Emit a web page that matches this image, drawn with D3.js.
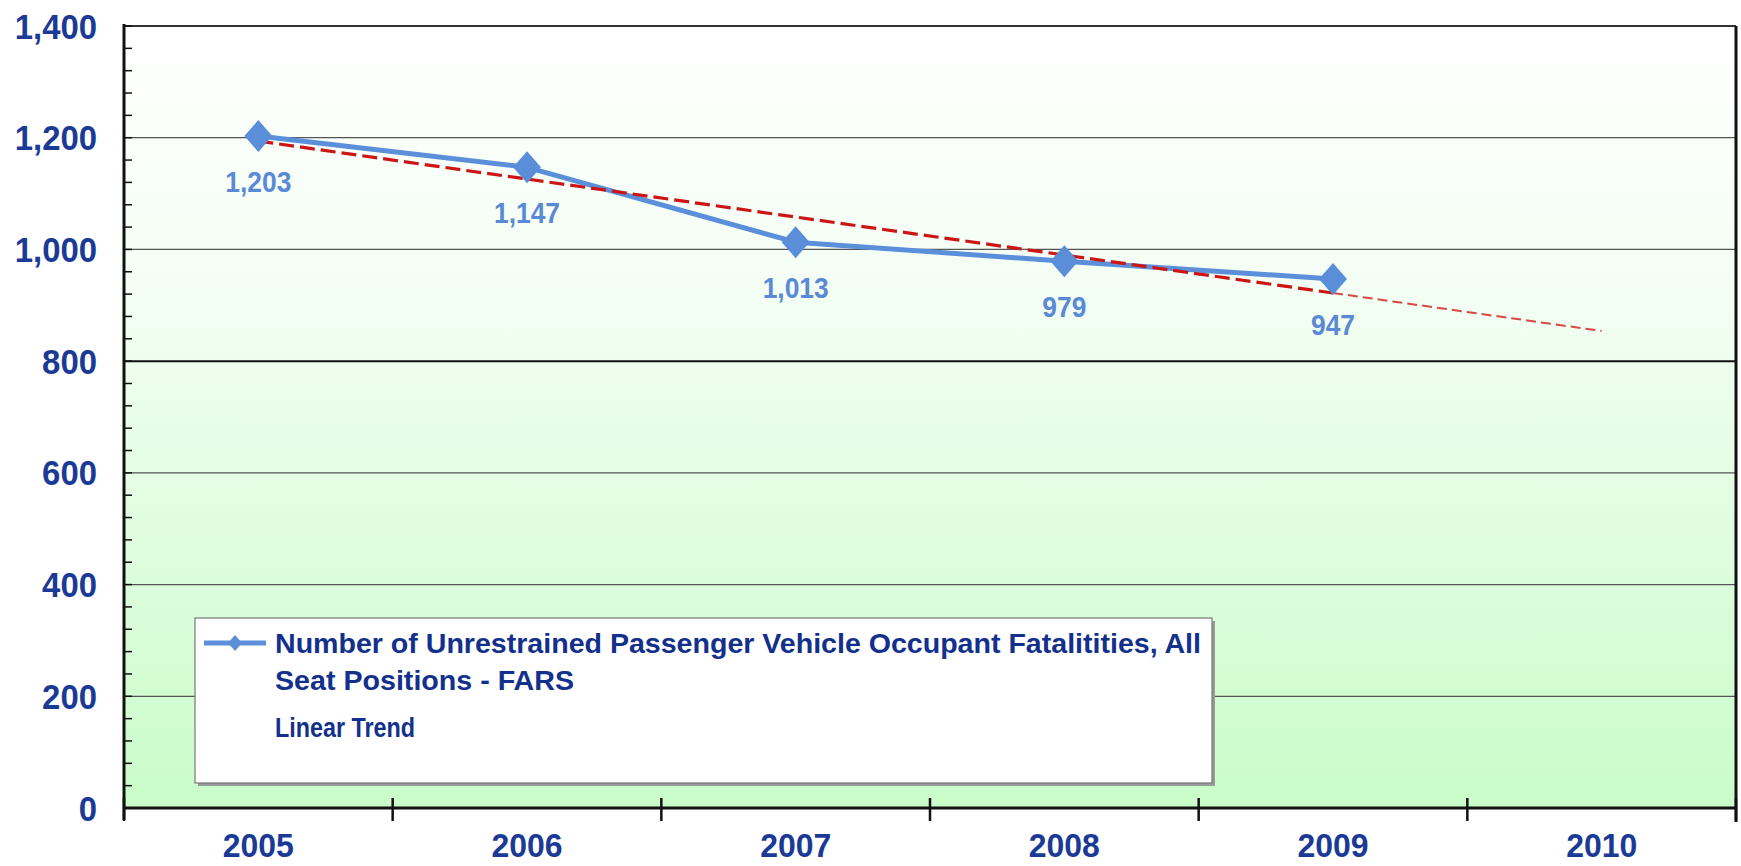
<!DOCTYPE html>
<html>
<head>
<meta charset="utf-8">
<script src="https://cdn.jsdelivr.net/npm/d3@7/dist/d3.min.js"></script>
<style>
  html, body { margin: 0; padding: 0; background: #ffffff; }
  svg { display: block; }
  text { font-family: "Liberation Sans", Arial, sans-serif; font-weight: bold; }
</style>
</head>
<body>
<svg id="chart" width="1741" height="866"></svg>
<script>
// ---- data ----
const years = ["2005", "2006", "2007", "2008", "2009", "2010"];
const seriesYears = ["2005", "2006", "2007", "2008", "2009"];
const fatalities = [1203, 1147, 1013, 979, 947];
const dataLabels = ["1,203", "1,147", "1,013", "979", "947"];
const trendYears = ["2005", "2009"];
const trendValues = [1194, 922];
const forecastYears = ["2009", "2010"];
const forecastValues = [922, 854];
const yTicks = [0, 200, 400, 600, 800, 1000, 1200, 1400];
const legendLines = ["Number of Unrestrained Passenger Vehicle Occupant Fatalitities, All", "Seat Positions - FARS", "Linear Trend"];

// ---- layout ----
const L = 124, R = 1736, T = 26, B = 808;
const svg = d3.select("#chart");

const x = d3.scaleBand().domain(years).range([L, R]).padding(0);
const y = d3.scaleLinear().domain([0, 1400]).range([B, T]);
const cx = d => x(d) + x.bandwidth() / 2;

// background gradient
const defs = svg.append("defs");
const grad = defs.append("linearGradient").attr("id", "bg").attr("x1", 0).attr("y1", 0).attr("x2", 0).attr("y2", 1);
grad.append("stop").attr("offset", "0%").attr("stop-color", "#ffffff");
grad.append("stop").attr("offset", "35%").attr("stop-color", "#f3fef3");
grad.append("stop").attr("offset", "100%").attr("stop-color", "#c9fcc9");
svg.append("rect").attr("x", L).attr("y", T).attr("width", R - L).attr("height", B - T).attr("fill", "url(#bg)");

// gridlines
svg.append("g").selectAll("line").data(yTicks.filter(v => v > 0 && v < 1400)).join("line")
  .attr("x1", L).attr("x2", R).attr("y1", d => y(d)).attr("y2", d => y(d))
  .attr("stroke", d => d === 800 ? "#111" : "#555")
  .attr("stroke-width", d => d === 800 ? 2 : 1.3);

// top border
svg.append("line").attr("x1", L).attr("x2", R).attr("y1", T).attr("y2", T).attr("stroke", "#333").attr("stroke-width", 2);
// right border
svg.append("line").attr("x1", R).attr("x2", R).attr("y1", T).attr("y2", B + 14).attr("stroke", "#111").attr("stroke-width", 3);

// y axis (minor ticks inside)
const minor = d3.range(0, 1401, 40);
svg.append("g").selectAll("line").data(minor).join("line")
  .attr("x1", L).attr("x2", L + 8).attr("y1", d => y(d)).attr("y2", d => y(d))
  .attr("stroke", "#111").attr("stroke-width", 1.5);
svg.append("line").attr("x1", L).attr("x2", L).attr("y1", T - 2).attr("y2", B + 12).attr("stroke", "#111").attr("stroke-width", 3);

// y labels
svg.append("g").selectAll("text").data(yTicks).join("text")
  .attr("transform", d => `translate(97,${y(d) + 12.5}) scale(0.94,1)`)
  .attr("text-anchor", "end").attr("font-size", 35).attr("fill", "#1a3a96")
  .text(d => d3.format(",")(d));

// x axis
svg.append("line").attr("x1", L).attr("x2", R).attr("y1", B).attr("y2", B).attr("stroke", "#111").attr("stroke-width", 3);
const bounds = years.map(d => x(d)).concat([R]);
svg.append("g").selectAll("line").data(bounds).join("line")
  .attr("x1", d => d).attr("x2", d => d).attr("y1", B - 10).attr("y2", B + 13)
  .attr("stroke", "#111").attr("stroke-width", 2.5);
svg.append("g").selectAll("text").data(years).join("text")
  .attr("transform", d => `translate(${cx(d)},857) scale(0.94,1)`)
  .attr("text-anchor", "middle").attr("font-size", 34).attr("fill", "#1a3a96")
  .text(d => d);

// trend line
const line = d3.line().x(d => cx(d[0])).y(d => y(d[1]));
svg.append("path").datum(forecastYears.map((d, i) => [d, forecastValues[i]]))
  .attr("d", line).attr("fill", "none").attr("stroke", "#d94848").attr("stroke-width", 2)
  .attr("stroke-dasharray", "10,5");

// series line
svg.append("path").datum(seriesYears.map((d, i) => [d, fatalities[i]]))
  .attr("d", line).attr("fill", "none").attr("stroke", "#5b8fda").attr("stroke-width", 5)
  .attr("stroke-linejoin", "round");

svg.append("path").datum(trendYears.map((d, i) => [d, trendValues[i]]))
  .attr("d", line).attr("fill", "none").attr("stroke", "#cc1515").attr("stroke-width", 3.2)
  .attr("stroke-dasharray", "15,6");

// markers
const diamond = (w, h) => `M0,${-h/2}L${w/2},0L0,${h/2}L${-w/2},0Z`;
svg.append("g").selectAll("path").data(seriesYears).join("path")
  .attr("transform", (d, i) => `translate(${cx(d)},${y(fatalities[i])})`)
  .attr("d", diamond(28, 32)).attr("fill", "#5a8ed9");

// data labels
svg.append("g").selectAll("text").data(seriesYears).join("text")
  .attr("transform", (d, i) => `translate(${cx(d)},${y(fatalities[i]) + 56}) scale(0.88,1)`)
  .attr("text-anchor", "middle").attr("font-size", 30).attr("fill", "#5a8ad6")
  .text((d, i) => dataLabels[i]);

// legend
const lg = svg.append("g");
lg.append("rect").attr("x", 198).attr("y", 621).attr("width", 1017).attr("height", 165).attr("fill", "#9a9a9a");
lg.append("rect").attr("x", 195).attr("y", 618).attr("width", 1017).attr("height", 165)
  .attr("fill", "#ffffff").attr("stroke", "#777").attr("stroke-width", 1.2);
lg.append("line").attr("x1", 204).attr("x2", 266).attr("y1", 643).attr("y2", 643).attr("stroke", "#5b8fda").attr("stroke-width", 5);
lg.append("path").attr("transform", "translate(235,643)").attr("d", diamond(14, 16)).attr("fill", "#5a8ed9");
const lgText = [[275, 653, 926], [275, 690, 299], [275, 737, 140]];
lg.selectAll("text").data(legendLines).join("text")
  .attr("x", (d, i) => lgText[i][0]).attr("y", (d, i) => lgText[i][1])
  .attr("textLength", (d, i) => lgText[i][2]).attr("lengthAdjust", "spacingAndGlyphs")
  .attr("font-size", 28).attr("fill", "#12308c")
  .text(d => d);
</script>
</body>
</html>
